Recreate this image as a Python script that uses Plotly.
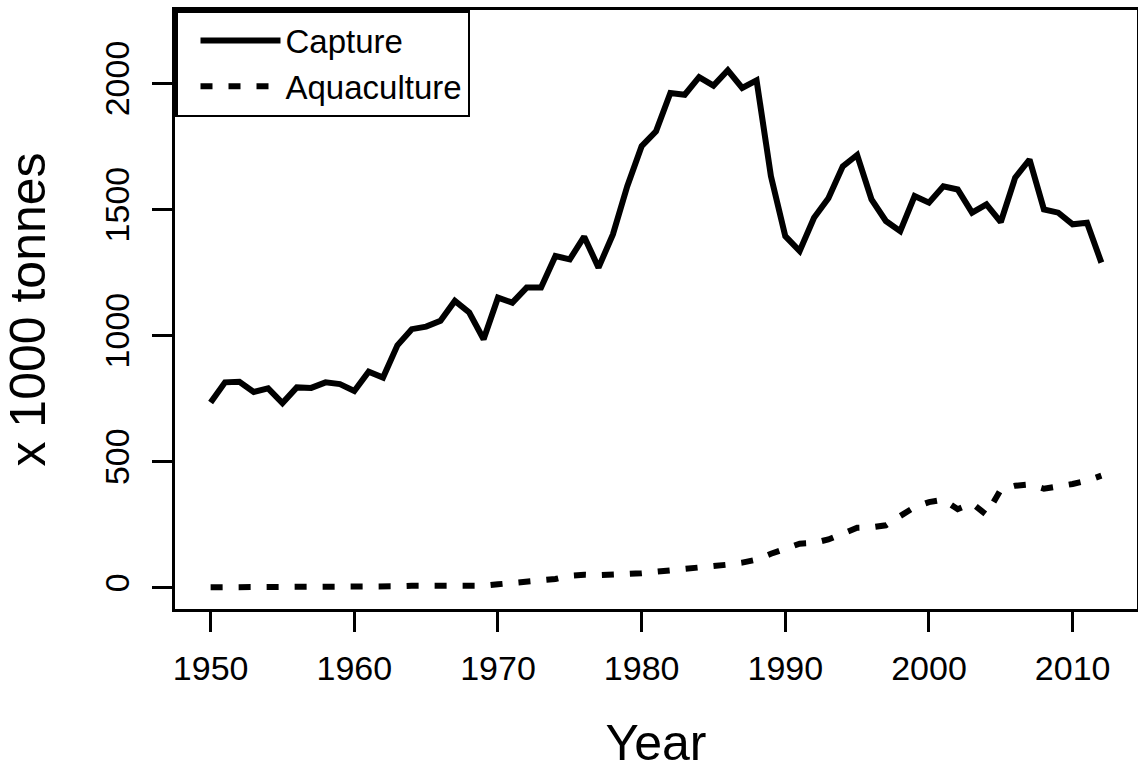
import plotly.graph_objects as go

years = list(range(1950, 2013))

capture = [735, 815, 817, 777, 791, 733, 795, 793, 815, 808,
           781, 857, 834, 962, 1026, 1036, 1059, 1138, 1092, 986,
           1151, 1131, 1191, 1191, 1316, 1303, 1393, 1270, 1402, 1593,
           1752, 1811, 1963, 1956, 2026, 1992, 2053, 1983, 2013, 1633,
           1395, 1336, 1468, 1545, 1672, 1717, 1541, 1455, 1415, 1554,
           1528, 1593, 1580, 1488, 1521, 1451, 1627, 1699, 1501, 1488,
           1442, 1448, 1290]

aquaculture = [2, 2, 2, 2, 2, 2, 2, 2, 2, 3,
               4, 5, 5, 6, 8, 7, 5, 6, 7, 8,
               14, 20, 24, 28, 35, 48, 52, 50, 50, 55,
               58, 63, 68, 74, 80, 86, 92, 100, 112, 135,
               155, 175, 178, 192, 215, 238, 240, 248, 285, 320,
               340, 350, 312, 335, 290, 390, 405, 410, 393, 400,
               412, 425, 445]

x_ticks = [1950, 1960, 1970, 1980, 1990, 2000, 2010]
y_ticks = [0, 500, 1000, 1500, 2000]

FONT = "Liberation Sans, Arial, Helvetica, sans-serif"

fig = go.Figure()
fig.add_trace(go.Scatter(x=years, y=capture, mode="lines", name="Capture",
                         line=dict(color="black", width=6)))
fig.add_trace(go.Scatter(x=years, y=aquaculture, mode="lines", name="Aquaculture",
                         line=dict(color="black", width=6, dash="12px,16px")))

axis_common = dict(showline=True, linecolor="black", linewidth=2.5, mirror=True,
                   ticks="outside", ticklen=20, tickwidth=2.5, tickcolor="black",
                   showgrid=False, zeroline=False,
                   tickfont=dict(family=FONT, size=34, color="black"))

fig.update_xaxes(range=[1947.52, 2014.48], tickvals=x_ticks, ticklabelstandoff=7,
                 title=dict(text="Year", font=dict(family=FONT, size=50, color="black"),
                            standoff=40),
                 **axis_common)
fig.update_yaxes(range=[-84, 2292], tickvals=y_ticks, tickangle=-90, ticklabelstandoff=10,
                 title=dict(text="x 1000 tonnes", font=dict(family=FONT, size=50, color="black"),
                            standoff=51),
                 **axis_common)

fig.update_layout(
    width=1138, height=773,
    margin=dict(l=175, r=1, t=10, b=164, autoexpand=False),
    paper_bgcolor="white", plot_bgcolor="white",
    font=dict(family=FONT, color="black"),
    legend=dict(x=0, y=1, xanchor="left", yanchor="top",
                bgcolor="white", bordercolor="black", borderwidth=2.5,
                font=dict(family=FONT, size=33, color="black"),
                itemwidth=80, indentation=18, tracegroupgap=0),
    showlegend=True,
)

fig.write_html("out.html",
               config={"displayModeBar": False},
               post_script="document.body.style.margin='0';document.body.style.overflow='hidden';")
